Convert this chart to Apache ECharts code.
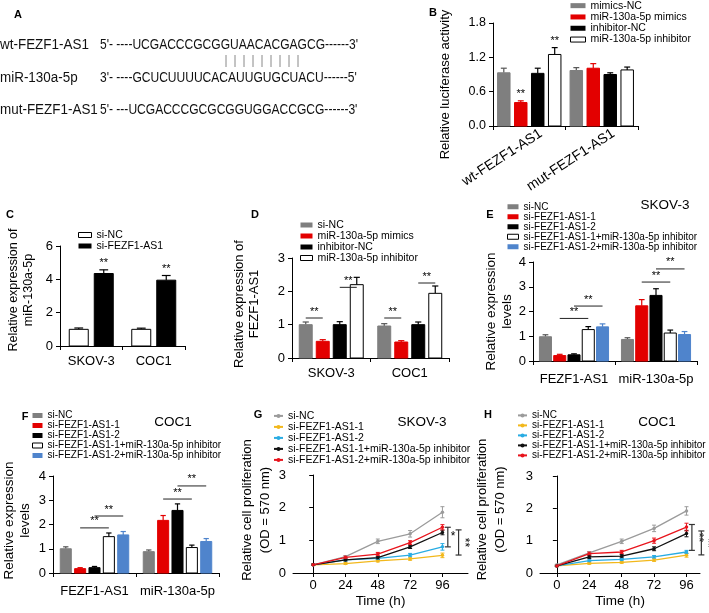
<!DOCTYPE html>
<html><head><meta charset="utf-8">
<script src="https://cdn.jsdelivr.net/npm/echarts@6/dist/echarts.min.js"></script>
<style>html,body{margin:0;padding:0;background:#fff}#c{width:709px;height:613px}</style>
</head><body><div id="c"></div>
<script>
// ---------------- DATA ----------------
// Panel A
const aNames = ['wt-FEZF1-AS1', 'miR-130a-5p', 'mut-FEZF1-AS1'];
const aSequences = ["5'- ----UCGACCCGCGGUAACACGAGCG------3'", "3'- ----GCUCUUUUCACAUUGUGCUACU------5'", "5'- ---UCGACCCGCGCGGUGGACCGCG------3'"];
const aPairCount = 9;
// Panel B
const bCategories = ['wt-FEZF1-AS1', 'mut-FEZF1-AS1'];
const bGroups = ['mimics-NC', 'miR-130a-5p mimics', 'inhibitor-NC', 'miR-130a-5p inhibitor'];
const bMimicsNC = [0.93, 0.97];
const bMimicsNCErr = [0.08, 0.05];
const bMimics = [0.41, 1.01];
const bMimicsErr = [0.03, 0.08];
const bMimicsStars = ['**', ''];
const bInhibitorNC = [0.92, 0.90];
const bInhibitorNCErr = [0.09, 0.03];
const bInhibitor = [1.25, 0.98];
const bInhibitorErr = [0.12, 0.05];
const bInhibitorStars = ['**', ''];
const bYTicks = [0, 0.6, 1.2, 1.8];
// Panel C
const cCategories = ['SKOV-3', 'COC1'];
const cGroups = ['si-NC', 'si-FEZF1-AS1'];
const cSiNC = [1.0, 1.0];
const cSiNCErr = [0.08, 0.07];
const cSiFEZF1 = [4.35, 3.95];
const cSiFEZF1Err = [0.22, 0.28];
const cStars = ['**', '**'];
const cYTicks = [0, 2, 4, 6];
// Panel D
const dCategories = ['SKOV-3', 'COC1'];
const dGroups = ['si-NC', 'miR-130a-5p mimics', 'inhibitor-NC', 'miR-130a-5p inhibitor'];
const dSiNC = [1.0, 0.96];
const dSiNCErr = [0.08, 0.07];
const dMimics = [0.5, 0.48];
const dMimicsErr = [0.05, 0.04];
const dInhibitorNC = [1.0, 1.0];
const dInhibitorNCErr = [0.09, 0.08];
const dInhibitor = [2.2, 1.94];
const dInhibitorErr = [0.22, 0.22];
const dSigCat = [0, 0, 1, 1];
const dSigFrom = [0, 2, 0, 2];
const dSigTo = [1, 3, 1, 3];
const dSigY = [1.2, 2.12, 1.2, 2.25];
const dYTicks = [0, 1, 2, 3];
// Panel E (SKOV-3)
const eCategories = ['FEZF1-AS1', 'miR-130a-5p'];
const eGroups = ['si-NC', 'si-FEZF1-AS1-1', 'si-FEZF1-AS1-2', 'si-FEZF1-AS1-1+miR-130a-5p inhibitor', 'si-FEZF1-AS1-2+miR-130a-5p inhibitor'];
const eSiNC = [0.98, 0.87];
const eSiNCErr = [0.08, 0.07];
const eSi1 = [0.22, 2.23];
const eSi1Err = [0.05, 0.25];
const eSi2 = [0.25, 2.65];
const eSi2Err = [0.04, 0.27];
const eSi1Inh = [1.27, 1.13];
const eSi1InhErr = [0.12, 0.12];
const eSi2Inh = [1.38, 1.07];
const eSi2InhErr = [0.12, 0.12];
const eSigCat = [0, 0, 1, 1];
const eSigFrom = [1, 2, 1, 2];
const eSigTo = [3, 4, 3, 4];
const eSigY = [1.72, 2.22, 3.19, 3.72];
const eYTicks = [0, 1, 2, 3, 4];
// Panel F (COC1)
const fCategories = ['FEZF1-AS1', 'miR-130a-5p'];
const fSiNC = [1.0, 0.88];
const fSiNCErr = [0.08, 0.07];
const fSi1 = [0.18, 2.17];
const fSi1Err = [0.04, 0.2];
const fSi2 = [0.22, 2.58];
const fSi2Err = [0.05, 0.27];
const fSi1Inh = [1.5, 1.05];
const fSi1InhErr = [0.15, 0.1];
const fSi2Inh = [1.57, 1.3];
const fSi2InhErr = [0.14, 0.12];
const fSigCat = [0, 0, 1, 1];
const fSigFrom = [1, 2, 1, 2];
const fSigTo = [3, 4, 3, 4];
const fSigY = [1.86, 2.35, 3.05, 3.59];
const fYTicks = [0, 1, 2, 3, 4];
// Panel G (SKOV-3)
const gTime = [0, 24, 48, 72, 96];
const gGroups = ['si-NC', 'si-FEZF1-AS1-1', 'si-FEZF1-AS1-2', 'si-FEZF1-AS1-1+miR-130a-5p inhibitor', 'si-FEZF1-AS1-2+miR-130a-5p inhibitor'];
const gSiNC = [0.25, 0.5, 0.97, 1.2, 1.86];
const gSiNCErr = [0.02, 0.03, 0.07, 0.1, 0.17];
const gSi1 = [0.25, 0.29, 0.37, 0.43, 0.54];
const gSi1Err = [0.02, 0.03, 0.03, 0.04, 0.07];
const gSi2 = [0.25, 0.4, 0.45, 0.55, 0.8];
const gSi2Err = [0.02, 0.03, 0.04, 0.05, 0.1];
const gSi1Inh = [0.25, 0.4, 0.47, 0.8, 1.24];
const gSi1InhErr = [0.02, 0.03, 0.04, 0.05, 0.07];
const gSi2Inh = [0.25, 0.48, 0.58, 0.93, 1.4];
const gSi2InhErr = [0.02, 0.04, 0.05, 0.06, 0.08];
const gBracketX = [100, 108];
const gBracketTop = [1.4, 1.32];
const gBracketBottom = [0.8, 0.55];
const gBracketLabels = ['*', '**'];
// Panel H (COC1)
const hSiNC = [0.25, 0.62, 0.98, 1.38, 1.92];
const hSiNCErr = [0.02, 0.04, 0.07, 0.1, 0.13];
const hSi1 = [0.22, 0.3, 0.33, 0.4, 0.55];
const hSi1Err = [0.02, 0.03, 0.03, 0.04, 0.06];
const hSi2 = [0.22, 0.38, 0.42, 0.5, 0.65];
const hSi2Err = [0.02, 0.03, 0.03, 0.04, 0.05];
const hSi1Inh = [0.22, 0.5, 0.52, 0.75, 1.22];
const hSi1InhErr = [0.02, 0.05, 0.05, 0.06, 0.1];
const hSi2Inh = [0.22, 0.6, 0.65, 1.0, 1.42];
const hSi2InhErr = [0.02, 0.05, 0.05, 0.08, 0.12];
const hBracketX = [100, 107];
const hBracketTop = [1.5, 1.3];
const hBracketBottom = [0.7, 0.56];
const hBracketLabels = ['**', '**'];
const lineYTicks = [0, 1, 2, 3];

// ---------------- FONTS ----------------
const FF = "'Liberation Sans', Arial, sans-serif";
const fnt = (s, bold) => (bold ? 'bold ' : '') + s + 'px ' + FF;

// ---------------- COLORS ----------------
const GRAY = '#7f7f7f', RED = '#e30000', BLACK = '#000000', BLUE = '#4f84cc';
const barStyles = {
  gray: { fill: GRAY, stroke: GRAY, err: '#555' },
  red: { fill: RED, stroke: RED, err: RED },
  black: { fill: BLACK, stroke: BLACK, err: BLACK },
  white: { fill: '#ffffff', stroke: BLACK, err: BLACK },
  blue: { fill: BLUE, stroke: BLUE, err: BLUE }
};
const lineColors = ['#9b9b9b', '#f2b81c', '#29ace3', '#111111', '#e8141c'];

const option = { animation: false, backgroundColor: '#ffffff', textStyle: { fontFamily: FF },
  grid: [], xAxis: [], yAxis: [], legend: [], series: [], graphic: [] };

function axisCommon() {
  return { axisLine: { show: true, lineStyle: { color: '#000', width: 1 } },
    axisTick: { show: true, length: 4, lineStyle: { color: '#000' } }, splitLine: { show: false } };
}

function barSeries(gi, panel, s, idx, n, barFrac, stepFrac) {
  return {
    type: 'custom', name: panel + '|' + s.name, xAxisIndex: gi, yAxisIndex: gi,
    itemStyle: { color: s.style.fill, borderColor: s.style.stroke, borderWidth: 1 },
    encode: { x: 0, y: 1 }, silent: true,
    data: s.values.map((v, i) => [i, v, s.errs[i]]),
    renderItem(params, api) {
      const cat = api.value(0), v = api.value(1), e = api.value(2);
      const star = s.stars ? s.stars[params.dataIndex] : '';
      const band = api.size([1, 0])[0];
      const top = api.coord([cat, v]), base = api.coord([cat, 0]), et = api.coord([cat, v + e]);
      const cx = top[0] + (idx - (n - 1) / 2) * stepFrac * band;
      const w = barFrac * band, cap = Math.max(2, w * 0.22);
      const st = s.style;
      const ch = [
        { type: 'line', shape: { x1: cx, y1: top[1], x2: cx, y2: et[1] }, style: { stroke: st.err, lineWidth: 1.2 } },
        { type: 'line', shape: { x1: cx - cap, y1: et[1], x2: cx + cap, y2: et[1] }, style: { stroke: st.err, lineWidth: 1.2 } },
        { type: 'rect', shape: { x: cx - w / 2 + 0.5, y: top[1], width: w - 1, height: base[1] - top[1] }, style: { fill: st.fill, stroke: st.stroke, lineWidth: 1 } }
      ];
      if (star) ch.push({ type: 'text', style: { text: star, x: cx, y: et[1] - 1, align: 'center', verticalAlign: 'bottom', font: fnt(11), fill: '#000' } });
      return { type: 'group', children: ch };
    }
  };
}

function sigSeries(gi, cats, froms, tos, ys, n, stepFrac) {
  return {
    type: 'custom', xAxisIndex: gi, yAxisIndex: gi, encode: { x: 0, y: 3 }, silent: true, z: 5,
    data: cats.map((c, i) => [c, froms[i], tos[i], ys[i]]),
    renderItem(params, api) {
      const c = api.value(0), f = api.value(1), t = api.value(2), y = api.value(3);
      const band = api.size([1, 0])[0];
      const p = api.coord([c, y]);
      const x1 = p[0] + (f - (n - 1) / 2) * stepFrac * band;
      const x2 = p[0] + (t - (n - 1) / 2) * stepFrac * band;
      return { type: 'group', children: [
        { type: 'line', shape: { x1, y1: p[1], x2, y2: p[1] }, style: { stroke: '#222', lineWidth: 1 } },
        { type: 'text', style: { text: '**', x: (x1 + x2) / 2, y: p[1] - 1, align: 'center', verticalAlign: 'bottom', font: fnt(11), fill: '#000' } }
      ] };
    }
  };
}

function addLegend(panel, names, cfg, styles) {
  const lg = {
    orient: 'vertical', left: cfg.left, top: cfg.top, padding: 0, itemGap: 0,
    itemWidth: cfg.iw, itemHeight: cfg.ih, selectedMode: false,
    data: names.map((nm, i) => {
      const d = { name: panel + '|' + nm };
      if (styles) d.itemStyle = { color: styles[i].fill, borderColor: styles[i].stroke, borderWidth: styles[i].fill === '#ffffff' ? 1 : 0 };
      return d;
    }),
    formatter: nm => nm.slice(nm.indexOf('|') + 1),
    textStyle: { fontFamily: FF, fontSize: cfg.fs, lineHeight: cfg.lh, color: '#000', padding: 0 }
  };
  if (styles) lg.icon = 'rect';
  option.legend.push(lg);
}

function addBarPanel(p) {
  const gi = option.grid.length;
  option.grid.push({ left: p.left, top: p.top, width: p.width, height: p.height, outerBoundsMode: 'none', containLabel: false });
  const xa = Object.assign(axisCommon(), { gridIndex: gi, type: 'category', data: p.cats,
    axisLabel: { color: '#000', fontSize: p.xfs, fontFamily: FF, margin: p.xMargin, rotate: p.rotate || 0, interval: 0, padding: p.xPad || 0 } });
  option.xAxis.push(xa);
  const ticks = p.yTicks;
  const ya = Object.assign(axisCommon(), { gridIndex: gi, type: 'value', min: ticks[0], max: ticks[ticks.length - 1],
    interval: ticks[1] - ticks[0],
    name: p.yName, nameLocation: 'middle', nameRotate: 90, nameGap: p.nameGap,
    nameTextStyle: { color: '#000', fontSize: p.nameFs, lineHeight: p.nameLh, fontFamily: FF, padding: p.namePad || 0 },
    axisLabel: { color: '#000', fontSize: p.yfs, fontFamily: FF, margin: 7, formatter: v => v.toFixed(p.dec || 0) } });
  option.yAxis.push(ya);
  const n = p.series.length;
  p.series.forEach((s, k) => option.series.push(barSeries(gi, p.id, s, k, n, p.barFrac, p.stepFrac)));
  if (p.sig) option.series.push(sigSeries(gi, p.sig.cat, p.sig.from, p.sig.to, p.sig.y, n, p.stepFrac));
  addLegend(p.id, p.series.map(s => s.name), p.legend, p.series.map(s => s.style));
}

function addLinePanel(p) {
  const gi = option.grid.length;
  option.grid.push({ left: p.left, top: p.top, width: p.width, height: p.height, outerBoundsMode: 'none', containLabel: false });
  option.xAxis.push(Object.assign(axisCommon(), { gridIndex: gi, type: 'value', min: p.xMin, max: p.xMax,
    name: 'Time (h)', nameLocation: 'middle', nameGap: 21,
    nameTextStyle: { color: '#000', fontSize: 13.5, fontFamily: FF },
    axisTick: { show: true, length: 4, lineStyle: { color: '#000' }, customValues: p.time },
    axisLabel: { color: '#000', fontSize: 13, fontFamily: FF, margin: 6, customValues: p.time } }));
  option.yAxis.push(Object.assign(axisCommon(), { gridIndex: gi, type: 'value', min: lineYTicks[0], max: lineYTicks[lineYTicks.length - 1],
    interval: lineYTicks[1] - lineYTicks[0],
    name: 'Relative cell proliferation\n(OD = 570 nm)', nameLocation: 'middle', nameRotate: 90, nameGap: p.nameGap,
    nameTextStyle: { color: '#000', fontSize: 13, lineHeight: 18.5, fontFamily: FF, padding: p.namePad || 0 },
    axisLabel: { color: '#000', fontSize: 13, fontFamily: FF, margin: 7 } }));
  p.series.forEach((s, k) => {
    const col = lineColors[k];
    option.series.push({ type: 'line', name: p.id + '|' + s.name, xAxisIndex: gi, yAxisIndex: gi, z: 3 + k * 0.01,
      data: p.time.map((t, i) => [t, s.values[i]]), symbol: 'circle', symbolSize: 3.5, showSymbol: true,
      lineStyle: { color: col, width: 1.3 }, itemStyle: { color: col }, silent: true });
    option.series.push({ type: 'custom', xAxisIndex: gi, yAxisIndex: gi, encode: { x: 0, y: 1 }, silent: true, z: 3,
      data: p.time.map((t, i) => [t, s.values[i], s.errs[i]]),
      renderItem(params, api) {
        const x = api.value(0), v = api.value(1), e = api.value(2);
        const a = api.coord([x, v + e]), b = api.coord([x, v - e]);
        const st = { stroke: col, lineWidth: 1 };
        return { type: 'group', children: [
          { type: 'line', shape: { x1: a[0], y1: a[1], x2: b[0], y2: b[1] }, style: st },
          { type: 'line', shape: { x1: a[0] - 2, y1: a[1], x2: a[0] + 2, y2: a[1] }, style: st },
          { type: 'line', shape: { x1: b[0] - 2, y1: b[1], x2: b[0] + 2, y2: b[1] }, style: st }
        ] };
      } });
  });
  const br = p.brackets;
  option.series.push({ type: 'custom', xAxisIndex: gi, yAxisIndex: gi, encode: { x: 0, y: 1 }, silent: true, z: 6,
    data: br.x.map((x, i) => [x, br.top[i], br.bottom[i]]),
    renderItem(params, api) {
      const x = api.value(0), t = api.value(1), b = api.value(2);
      const label = br.labels[params.dataIndex];
      const a = api.coord([x, t]), c = api.coord([x, b]);
      const st = { stroke: '#333', lineWidth: 1.2 };
      const ch = [
        { type: 'line', shape: { x1: a[0], y1: a[1], x2: c[0], y2: c[1] }, style: st },
        { type: 'line', shape: { x1: a[0] - 3, y1: a[1], x2: a[0] + 3, y2: a[1] }, style: st },
        { type: 'line', shape: { x1: c[0] - 3, y1: c[1], x2: c[0] + 3, y2: c[1] }, style: st }
      ];
      const my = (a[1] + c[1]) / 2;
      if (label.length === 1) ch.push({ type: 'text', style: { text: label, x: a[0] + 3, y: my, align: 'left', verticalAlign: 'middle', font: fnt(12), fill: '#000' } });
      else ch.push({ type: 'text', x: a[0] + 6, y: my, rotation: -Math.PI / 2, style: { text: label, x: 0, y: 0, align: 'center', verticalAlign: 'middle', font: fnt(12), fill: '#000' } });
      return { type: 'group', children: ch };
    } });
  addLegend(p.id, p.series.map(s => s.name), p.legend, null);
}

// ---------------- PANELS ----------------
addBarPanel({ id: 'B', left: 493, top: 23, width: 145, height: 103, cats: bCategories, yTicks: bYTicks, dec: 1,
  yName: 'Relative luciferase activity', nameGap: 40, nameFs: 13, nameLh: 15, namePad: [0, 20, 0, 0], yfs: 12.5, xfs: 14,
  xMargin: 14, xPad: [0, -14, 0, 0], rotate: 33,
  barFrac: 0.186, stepFrac: 0.234,
  series: [
    { name: bGroups[0], values: bMimicsNC, errs: bMimicsNCErr, style: barStyles.gray },
    { name: bGroups[1], values: bMimics, errs: bMimicsErr, style: barStyles.red, stars: bMimicsStars },
    { name: bGroups[2], values: bInhibitorNC, errs: bInhibitorNCErr, style: barStyles.black },
    { name: bGroups[3], values: bInhibitor, errs: bInhibitorErr, style: barStyles.white, stars: bInhibitorStars }
  ],
  legend: { left: 570, top: 0, lh: 11.3, iw: 15, ih: 5, fs: 10.5 } });

addBarPanel({ id: 'C', left: 60, top: 246, width: 125, height: 100, cats: cCategories, yTicks: cYTicks,
  yName: 'Relative expression of\nmiR-130a-5p', nameGap: 24, nameFs: 12.5, nameLh: 15, namePad: [0, 0, 0, 12], yfs: 13, xfs: 13, xMargin: 9,
  barFrac: 0.32, stepFrac: 0.4,
  series: [
    { name: cGroups[0], values: cSiNC, errs: cSiNCErr, style: barStyles.white },
    { name: cGroups[1], values: cSiFEZF1, errs: cSiFEZF1Err, style: barStyles.black, stars: cStars }
  ],
  legend: { left: 78, top: 229.5, lh: 9, iw: 13, ih: 5, fs: 10.5 } });

addBarPanel({ id: 'D', left: 292, top: 258, width: 157, height: 100, cats: dCategories, yTicks: dYTicks,
  yName: 'Relative expression of\nFEZF1-AS1', nameGap: 30, nameFs: 13, nameLh: 15, namePad: [0, 0, 0, 8], yfs: 13, xfs: 13, xMargin: 9,
  barFrac: 0.178, stepFrac: 0.2166,
  series: [
    { name: dGroups[0], values: dSiNC, errs: dSiNCErr, style: barStyles.gray },
    { name: dGroups[1], values: dMimics, errs: dMimicsErr, style: barStyles.red },
    { name: dGroups[2], values: dInhibitorNC, errs: dInhibitorNCErr, style: barStyles.black },
    { name: dGroups[3], values: dInhibitor, errs: dInhibitorErr, style: barStyles.white }
  ],
  sig: { cat: dSigCat, from: dSigFrom, to: dSigTo, y: dSigY },
  legend: { left: 300, top: 219.5, lh: 11, iw: 12, ih: 5, fs: 10.5 } });

addBarPanel({ id: 'E', left: 533, top: 262, width: 164, height: 99, cats: eCategories, yTicks: eYTicks,
  yName: 'Relative expression\nlevels', nameGap: 17, nameFs: 13.5, nameLh: 15.5, yfs: 13, xfs: 13, xMargin: 12,
  barFrac: 0.159, stepFrac: 0.174,
  series: [
    { name: eGroups[0], values: eSiNC, errs: eSiNCErr, style: barStyles.gray },
    { name: eGroups[1], values: eSi1, errs: eSi1Err, style: barStyles.red },
    { name: eGroups[2], values: eSi2, errs: eSi2Err, style: barStyles.black },
    { name: eGroups[3], values: eSi1Inh, errs: eSi1InhErr, style: barStyles.white },
    { name: eGroups[4], values: eSi2Inh, errs: eSi2InhErr, style: barStyles.blue }
  ],
  sig: { cat: eSigCat, from: eSigFrom, to: eSigTo, y: eSigY },
  legend: { left: 507, top: 201.75, lh: 8.5, iw: 11, ih: 5, fs: 10 } });

addBarPanel({ id: 'F', left: 53, top: 476, width: 166, height: 97, cats: fCategories, yTicks: fYTicks,
  yName: 'Relative expression\nlevels', nameGap: 20, nameFs: 13.5, nameLh: 15.5, namePad: [0, 0, 0, 8], yfs: 13, xfs: 13, xMargin: 12,
  barFrac: 0.145, stepFrac: 0.173,
  series: [
    { name: eGroups[0], values: fSiNC, errs: fSiNCErr, style: barStyles.gray },
    { name: eGroups[1], values: fSi1, errs: fSi1Err, style: barStyles.red },
    { name: eGroups[2], values: fSi2, errs: fSi2Err, style: barStyles.black },
    { name: eGroups[3], values: fSi1Inh, errs: fSi1InhErr, style: barStyles.white },
    { name: eGroups[4], values: fSi2Inh, errs: fSi2InhErr, style: barStyles.blue }
  ],
  sig: { cat: fSigCat, from: fSigFrom, to: fSigTo, y: fSigY },
  legend: { left: 32, top: 410.5, lh: 8.8, iw: 10, ih: 5, fs: 10 } });

addLinePanel({ id: 'G', left: 293, top: 475, width: 175, height: 98, xMin: -15, xMax: 115, time: gTime, nameGap: 18, namePad: [0, 0, 0, 28],
  series: [
    { name: gGroups[0], values: gSiNC, errs: gSiNCErr },
    { name: gGroups[1], values: gSi1, errs: gSi1Err },
    { name: gGroups[2], values: gSi2, errs: gSi2Err },
    { name: gGroups[3], values: gSi1Inh, errs: gSi1InhErr },
    { name: gGroups[4], values: gSi2Inh, errs: gSi2InhErr }
  ],
  brackets: { x: gBracketX, top: gBracketTop, bottom: gBracketBottom, labels: gBracketLabels },
  legend: { left: 273, top: 410.4, lh: 9.25, iw: 9, ih: 5, fs: 10.5 } });

addLinePanel({ id: 'H', left: 540, top: 476, width: 160, height: 97, xMin: -12.5, xMax: 106, time: gTime, nameGap: 30, namePad: [0, 0, 0, 30],
  series: [
    { name: gGroups[0], values: hSiNC, errs: hSiNCErr },
    { name: gGroups[1], values: hSi1, errs: hSi1Err },
    { name: gGroups[2], values: hSi2, errs: hSi2Err },
    { name: gGroups[3], values: hSi1Inh, errs: hSi1InhErr },
    { name: gGroups[4], values: hSi2Inh, errs: hSi2InhErr }
  ],
  brackets: { x: hBracketX, top: hBracketTop, bottom: hBracketBottom, labels: hBracketLabels },
  legend: { left: 517, top: 410.4, lh: 9.25, iw: 9, ih: 5, fs: 10 } });

// ---------------- TEXT (panel A, letters, titles) ----------------
const G = option.graphic;
const rowY = [45, 78, 110];
aNames.forEach((nm, i) => {
  G.push({ type: 'text', x: 0, y: rowY[i], scaleX: 0.96, style: { text: nm, font: fnt(14), fill: '#111', verticalAlign: 'middle' } });
  G.push({ type: 'text', x: 100, y: rowY[i], scaleX: 0.86, style: { text: aSequences[i], font: fnt(14), fill: '#111', verticalAlign: 'middle' } });
});
for (let i = 0; i < aPairCount; i++) {
  G.push({ type: 'line', shape: { x1: 226 + i * 9, y1: 55, x2: 226 + i * 9, y2: 67 }, style: { stroke: '#888', lineWidth: 1 } });
}
const letters = [['A', 18, 15], ['B', 433, 13], ['C', 10, 215], ['D', 255, 215], ['E', 490, 215], ['F', 25, 417], ['G', 258, 415], ['H', 488, 415]];
letters.forEach(l => G.push({ type: 'text', x: l[1], y: l[2], style: { text: l[0], font: 'bold 11px Liberation Sans, Arial, sans-serif', fill: '#000', align: 'center', verticalAlign: 'middle' } }));
const titles = [['SKOV-3', 665, 205], ['COC1', 173, 422], ['SKOV-3', 422, 422], ['COC1', 657, 422]];
titles.forEach(t => G.push({ type: 'text', x: t[1], y: t[2], style: { text: t[0], font: fnt(13.5), fill: '#000', align: 'center', verticalAlign: 'middle' } }));

const chart = echarts.init(document.getElementById('c'), null, { renderer: 'canvas' });
chart.setOption(option);
</script></body></html>
